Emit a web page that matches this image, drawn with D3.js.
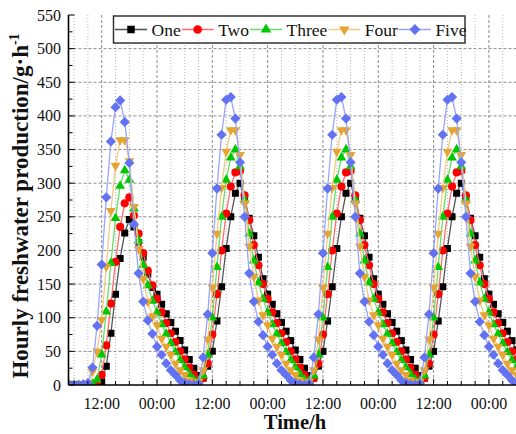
<!doctype html>
<html lang="en">
<head>
<meta charset="utf-8">
<title></title>
<script src="https://d3js.org/d3.v7.min.js"></script>
<style>
body { margin: 0; background: #fff; }
text { font-family: "Liberation Serif", "Times New Roman", serif; fill: #111; }
</style>
</head>
<body>
<script>

// first day is read from 05:00 to 23:00, the later days from 00:00 to 23:00
var firstHour = 5;

var oneFirstDay   = [0, 0, 0, 0, 0, 0, 1, 5, 28, 77, 135, 188, 226, 246, 235, 212, 190, 165, 145];
var twoFirstDay   = [0, 0, 0, 0, 0, 1, 4, 15, 59, 121, 183, 235, 270, 279, 252, 225, 196, 170, 148];
var threeFirstDay = [0, 0, 0, 0, 1, 2, 8, 45, 109, 181, 248, 296, 319, 305, 262, 215, 178, 148, 125];
var fourFirstDay  = [0, 0, 0, 1, 2, 20, 50, 97, 176, 259, 326, 364, 364, 333, 265, 202, 158, 124, 102];
var fiveFirstDay  = [0, 0, 0, 1, 3, 26, 88, 179, 279, 362, 413, 423, 391, 330, 239, 166, 124, 96, 76];

var oneDay   = [135, 120, 106, 93, 80, 66, 52, 38, 25, 14, 10, 28, 50, 95, 146, 203, 250, 285, 300, 275, 248, 222, 190, 158];
var twoDay   = [128, 108, 92, 77, 64, 50, 38, 26, 15, 8, 10, 32, 75, 135, 200, 255, 295, 316, 318, 282, 245, 208, 178, 150];
var threeDay = [108, 90, 76, 62, 49, 37, 26, 16, 8, 6, 14, 45, 100, 175, 250, 305, 338, 350, 325, 275, 225, 185, 152, 128];
var fourDay  = [89, 69, 57, 45, 32, 22, 15, 7, 3, 5, 22, 68, 145, 225, 293, 347, 379, 379, 342, 270, 206, 161, 126, 104];
var fiveDay  = [57, 45, 32, 22, 15, 7, 3, 1, 0, 2, 41, 105, 196, 292, 372, 424, 428, 396, 331, 250, 166, 124, 94, 74];

var seriesNames  = ["One", "Two", "Three", "Four", "Five"];
var markerColors = ["#000000", "#ff0000", "#00c800", "#e6a533", "#6272f2"];
var lineColors   = ["#555555", "#ff6a6a", "#66dd66", "#f0cc80", "#98a4ff"];

var xMajorTicks = [12, 24, 36, 48, 60, 72, 84, 96];
var xTickLabels = ["12:00", "00:00", "12:00", "00:00", "12:00", "00:00", "12:00", "00:00"];
var yTicks = [0, 50, 100, 150, 200, 250, 300, 350, 400, 450, 500, 550];

function buildSeries(first, day) {
    // the three middle days repeat the same cycle, then the early hours of day five
    return first.concat(day, day, day, day.slice(0, 7));
}

var allSeries = [
    buildSeries(oneFirstDay, oneDay),
    buildSeries(twoFirstDay, twoDay),
    buildSeries(threeFirstDay, threeDay),
    buildSeries(fourFirstDay, fourDay),
    buildSeries(fiveFirstDay, fiveDay)
];

var W = 516, H = 434;
var plotLeft = 68.5, plotTop = 15, plotBottom = 385;

var xScale = d3.scaleLinear().domain([4.8, 104]).range([plotLeft, plotLeft + 99.2 * 4.61]);
var yScale = d3.scaleLinear().domain([0, 550]).range([plotBottom, plotTop]);

var svg = d3.select("body").append("svg")
    .attr("width", W)
    .attr("height", H)
    .style("background", "#fff");

svg.append("clipPath").attr("id", "plot")
    .append("rect")
    .attr("x", plotLeft).attr("y", plotTop)
    .attr("width", W - plotLeft + 20).attr("height", plotBottom - plotTop);

// grid
var minorX = d3.range(6, 104, 3).filter(d => d % 12 != 0);
var grid = svg.append("g");
grid.selectAll(".vminor").data(minorX).enter().append("line")
    .attr("x1", d => xScale(d)).attr("x2", d => xScale(d))
    .attr("y1", plotTop).attr("y2", plotBottom)
    .attr("stroke", "#b4b4b4").attr("stroke-width", 1)
    .attr("stroke-dasharray", "1,2");
grid.selectAll(".vmajor").data(xMajorTicks).enter().append("line")
    .attr("x1", d => xScale(d)).attr("x2", d => xScale(d))
    .attr("y1", plotTop).attr("y2", plotBottom)
    .attr("stroke", "#8c8c8c").attr("stroke-width", 1)
    .attr("stroke-dasharray", "3,2");
grid.selectAll(".hmajor").data(yTicks.slice(1, -1)).enter().append("line")
    .attr("x1", plotLeft).attr("x2", W)
    .attr("y1", d => yScale(d)).attr("y2", d => yScale(d))
    .attr("stroke", "#8c8c8c").attr("stroke-width", 1)
    .attr("stroke-dasharray", "3,2");

// series
var shapes = [
    {type: d3.symbolSquare, size: 49, rot: 0},
    {type: d3.symbolCircle, size: 52, rot: 0},
    {type: d3.symbolTriangle, size: 42, rot: 0},
    {type: d3.symbolTriangle, size: 42, rot: 180},
    {type: d3.symbolSquare, size: 52, rot: 45}
];

var plot = svg.append("g").attr("clip-path", "url(#plot)");
var line = d3.line().x((d, i) => xScale(firstHour + i)).y(d => yScale(d));

allSeries.forEach(function(values, k) {
    plot.append("path")
        .datum(values)
        .attr("fill", "none")
        .attr("stroke", lineColors[k])
        .attr("stroke-width", 1.3)
        .attr("d", line);
    plot.selectAll(".m" + k).data(values).enter().append("path")
        .attr("transform", (d, i) => "translate(" + xScale(firstHour + i) + "," + yScale(d) + ") rotate(" + shapes[k].rot + ")")
        .attr("d", d3.symbol().type(shapes[k].type).size(shapes[k].size))
        .attr("fill", markerColors[k]);
});

// axes
svg.append("line")
    .attr("x1", plotLeft).attr("x2", W).attr("y1", plotBottom).attr("y2", plotBottom)
    .attr("stroke", "#000").attr("stroke-width", 1.6);
svg.append("line")
    .attr("x1", plotLeft).attr("x2", plotLeft).attr("y1", plotTop).attr("y2", plotBottom)
    .attr("stroke", "#000").attr("stroke-width", 1.6);

var xAll = d3.range(6, 104, 3);
svg.selectAll(".xt").data(xAll).enter().append("line")
    .attr("x1", d => xScale(d)).attr("x2", d => xScale(d))
    .attr("y1", plotBottom).attr("y2", d => d % 12 == 0 ? plotBottom - 6 : plotBottom - 4)
    .attr("stroke", "#000").attr("stroke-width", 1);

var yAll = d3.range(0, 551, 25);
svg.selectAll(".yt").data(yAll).enter().append("line")
    .attr("x1", plotLeft).attr("x2", d => d % 50 == 0 ? plotLeft + 6 : plotLeft + 4)
    .attr("y1", d => yScale(d)).attr("y2", d => yScale(d))
    .attr("stroke", "#000").attr("stroke-width", 1);

svg.selectAll(".xl").data(xMajorTicks).enter().append("text")
    .attr("x", d => xScale(d)).attr("y", 409)
    .attr("text-anchor", "middle")
    .style("font-size", "16px")
    .text((d, i) => xTickLabels[i]);

svg.selectAll(".yl").data(yTicks).enter().append("text")
    .attr("x", 61).attr("y", d => yScale(d) + 5.5)
    .attr("text-anchor", "end")
    .style("font-size", "16px")
    .text(d => d);

svg.append("text")
    .attr("x", 295).attr("y", 429)
    .attr("text-anchor", "middle")
    .style("font-size", "20.5px").style("font-weight", "bold")
    .text("Time/h");

var yTitle = svg.append("text")
    .attr("transform", "translate(28,206) rotate(-90)")
    .attr("text-anchor", "middle")
    .style("font-size", "23px").style("font-weight", "bold");
yTitle.append("tspan").text("Hourly freshwater production/g\u00b7h");
yTitle.append("tspan").attr("dy", -9).style("font-size", "14px").text("-1");

// legend
var legend = svg.append("g");
legend.append("rect")
    .attr("x", 113.5).attr("y", 16).attr("width", 351.5).attr("height", 27)
    .attr("fill", "#fff").attr("stroke", "#333").attr("stroke-width", 1.5);

var lx = 115;
seriesNames.forEach(function(name, k) {
    legend.append("line")
        .attr("x1", lx).attr("x2", lx + 32).attr("y1", 29.5).attr("y2", 29.5)
        .attr("stroke", lineColors[k]).attr("stroke-width", 1.6);
    legend.append("path")
        .attr("transform", "translate(" + (lx + 16) + ",29.5) rotate(" + shapes[k].rot + ")")
        .attr("d", d3.symbol().type(shapes[k].type).size(shapes[k].size * 1.15))
        .attr("fill", markerColors[k]);
    var t = legend.append("text")
        .attr("x", lx + 36.5).attr("y", 35.5)
        .style("font-size", "17.5px")
        .text(name);
    lx = lx + 36.5 + t.node().getComputedTextLength() + 1;
});

</script>
</body>
</html>
